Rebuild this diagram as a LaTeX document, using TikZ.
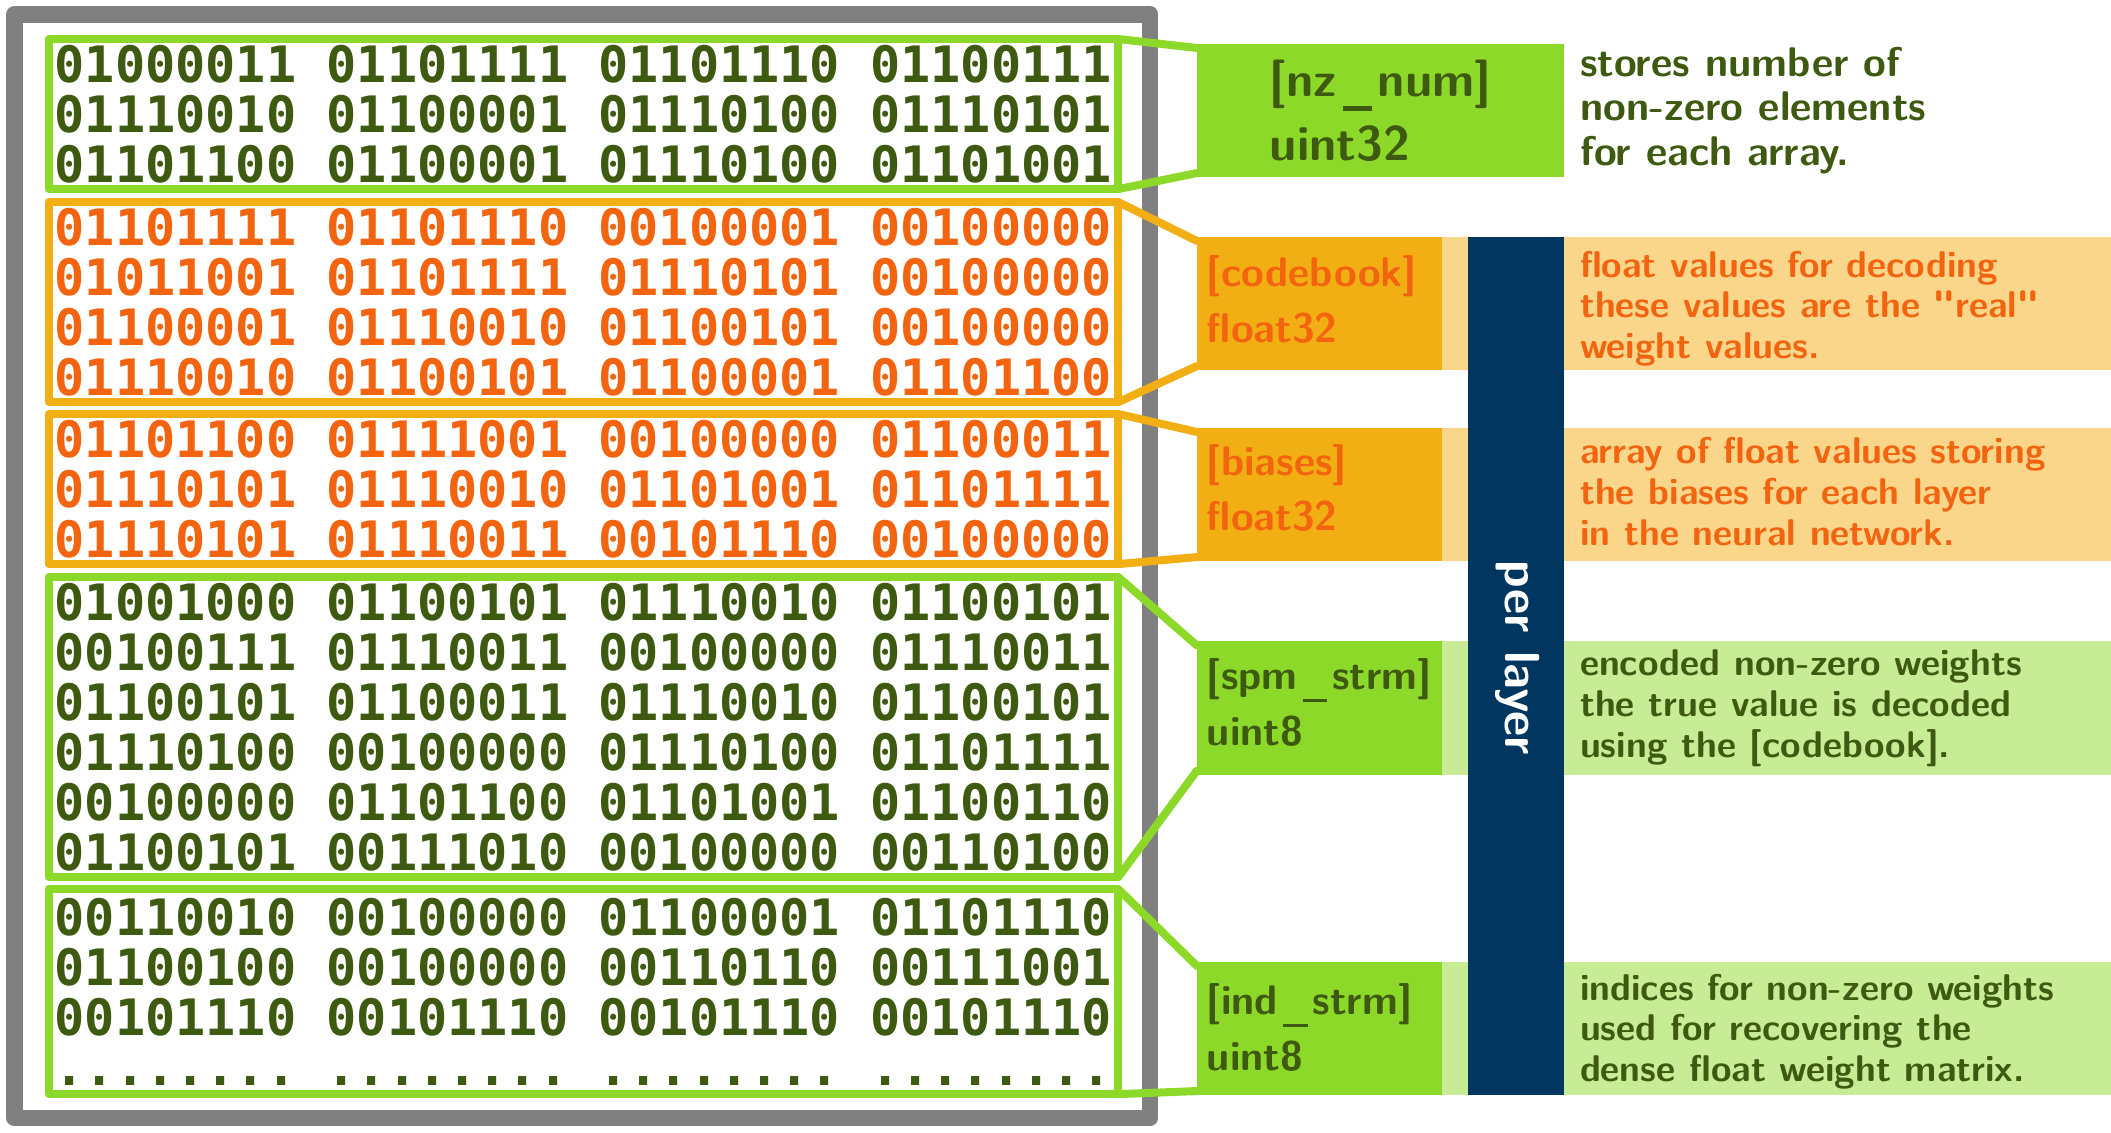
\documentclass[tikz,border=0pt]{standalone}
\usepackage{fontspec}
\newfontfamily\binfont{DejaVu Sans Mono}
\usetikzlibrary{calc}
\definecolor{lgreen}{HTML}{8DD92A}
\definecolor{dgreen}{HTML}{3E5910}
\definecolor{ogold}{HTML}{F2AF14}
\definecolor{otext}{HTML}{F2640F}
\definecolor{lorange}{HTML}{FAD68A}
\definecolor{lgband}{HTML}{C8EB96}
\definecolor{navy}{HTML}{003660}
\definecolor{framegray}{HTML}{808080}
\newcommand{\us}{\kern0.12em\rule[-0.3em]{0.6em}{0.09em}\kern0.12em}
\newcommand{\dpad}[1]{\rule[-#1]{0pt}{0pt}}
\begin{document}
\begin{tikzpicture}[x=0.01cm,y=-0.01cm,
  binbox/.style={draw=#1, line width=0.8mm, line join=round, inner sep=0pt, outer sep=0pt,
    anchor=north west, minimum width=106.9mm, align=left,
    font=\binfont\bfseries\frenchspacing\fontsize{14.27pt}{14.22pt}\selectfont},
  conn/.style={draw=#1, line width=0.8mm, line cap=round},
  lbl/.style={fill=#1, inner xsep=1mm, inner ysep=0pt, outer sep=0pt, minimum height=13.3mm,
    text width=22.5mm, align=left, font=\sffamily\bfseries\fontsize{11.75pt}{15.65pt}\selectfont},
  nzlbl/.style={fill=lgreen, text=dgreen, inner sep=0pt, outer sep=0pt, minimum height=13.3mm,
    minimum width=36.7mm, align=left, font=\sffamily\bfseries\fontsize{13.83pt}{18.2pt}\selectfont},
  band/.style={fill=#1, inner sep=0pt, outer sep=0pt, minimum height=13.3mm, minimum width=66.9mm, anchor=west},
  desc/.style={inner sep=0pt, outer sep=0pt, anchor=west, align=left,
    font=\sffamily\bfseries\fontsize{10.58pt}{11.6pt}\selectfont},
]
\useasboundingbox (0,0) rectangle (2111,1132);

% outer frame
\node[draw=framegray, line width=1.65mm, line join=round, inner sep=0pt, outer sep=0pt,
  minimum width=113.5mm, minimum height=110.32mm, anchor=north west] (frame) at (14.5,14.3) {};

% binary blocks
\node[binbox=lgreen, text=dgreen, minimum height=15mm] (b1) at (48.6,39)
 {01000011 01101111 01101110 01100111\\01110010 01100001 01110100 01110101\\01101100 01100001 01110100 01101001};
\node[binbox=ogold, text=otext, minimum height=20mm] (b2) at (48.6,202)
 {01101111 01101110 00100001 00100000\\01011001 01101111 01110101 00100000\\01100001 01110010 01100101 00100000\\01110010 01100101 01100001 01101100};
\node[binbox=ogold, text=otext, minimum height=15mm] (b3) at (48.6,414)
 {01101100 01111001 00100000 01100011\\01110101 01110010 01101001 01101111\\01110101 01110011 00101110 00100000};
\node[binbox=lgreen, text=dgreen, minimum height=30mm] (b4) at (48.6,577)
 {01001000 01100101 01110010 01100101\\00100111 01110011 00100000 01110011\\01100101 01100011 01110010 01100101\\01110100 00100000 01110100 01101111\\00100000 01101100 01101001 01100110\\01100101 00111010 00100000 00110100};
\node[binbox=lgreen, text=dgreen, minimum height=20.5mm] (b5) at (48.6,889)
 {00110010 00100000 01100001 01101110\\01100100 00100000 00110110 00111001\\00101110 00101110 00101110 00101110\\........ ........ ........ ........};

% labels
\node[nzlbl] (l1) at (1380.5,110.5) {[nz\us num]\\uint32};
\node[lbl=ogold, text=otext] (l2) at (1319.5,303.5) {[codebook]\\float32\dpad{0.9mm}};
\node[lbl=ogold, text=otext] (l3) at (1319.5,494.5) {[biases]\\float32\dpad{1.4mm}};
\node[lbl=lgreen, text=dgreen] (l4) at (1319.5,708) {[spm\us strm]\\uint8\dpad{1.2mm}};
\node[lbl=lgreen, text=dgreen] (l5) at (1319.5,1028.5) {[ind\us strm]\\uint8\dpad{0.3mm}};

% connectors
\draw[conn=lgreen] (b1.north east) -- ($(l1.north west)+(0,4)$);
\draw[conn=lgreen] (b1.south east) -- ($(l1.south west)+(0,-4)$);
\draw[conn=ogold] (b2.north east) -- ($(l2.north west)+(0,4)$);
\draw[conn=ogold] (b2.south east) -- ($(l2.south west)+(0,-4)$);
\draw[conn=ogold] (b3.north east) -- ($(l3.north west)+(0,4)$);
\draw[conn=ogold] (b3.south east) -- ($(l3.south west)+(0,-4)$);
\draw[conn=lgreen] (b4.north east) -- ($(l4.north west)+(0,4)$);
\draw[conn=lgreen] (b4.south east) -- ($(l4.south west)+(0,-4)$);
\draw[conn=lgreen] (b5.north east) -- ($(l5.north west)+(0,4)$);
\draw[conn=lgreen] (b5.south east) -- ($(l5.south west)+(0,-4)$);

% light bands
\node[band=lorange] (k2) at (l2.east) {};
\node[band=lorange] (k3) at (l3.east) {};
\node[band=lgband] (k4) at (l4.east) {};
\node[band=lgband] (k5) at (l5.east) {};

% per layer bar
\node[fill=navy, inner sep=0pt, outer sep=0pt, minimum width=9.6mm, minimum height=85.8mm] (bar) at (1516,666) {};
\node[rotate=-90, text=white, inner sep=0pt, font=\sffamily\bfseries\fontsize{14pt}{16pt}\selectfont] (pl)
  at ($(bar.center)+(1.5,-8.5)$) {per layer};

% descriptions
\node[desc, text=dgreen, font=\sffamily\bfseries\fontsize{11.78pt}{12.66pt}\selectfont] (d1)
  at ($(l1.east)+(16,0)$) {stores number of\\non-zero elements\\for each array.};
\node[desc, text=otext] (d2) at ($(k2.west)+(138,5)$) {float values for decoding\\these values are the \textquotedbl real\textquotedbl\\weight values.};
\node[desc, text=otext] (d3) at ($(k3.west)+(138,-3)$) {array of float values storing\\the biases for each layer\\in the neural network.};
\node[desc, text=dgreen] (d4) at ($(k4.west)+(138,0)$) {encoded non-zero weights\\the true value is decoded\\using the [codebook].};
\node[desc, text=dgreen] (d5) at ($(k5.west)+(138,3)$) {indices for non-zero weights\\used for recovering the\\dense float weight matrix.};
\end{tikzpicture}
\end{document}
